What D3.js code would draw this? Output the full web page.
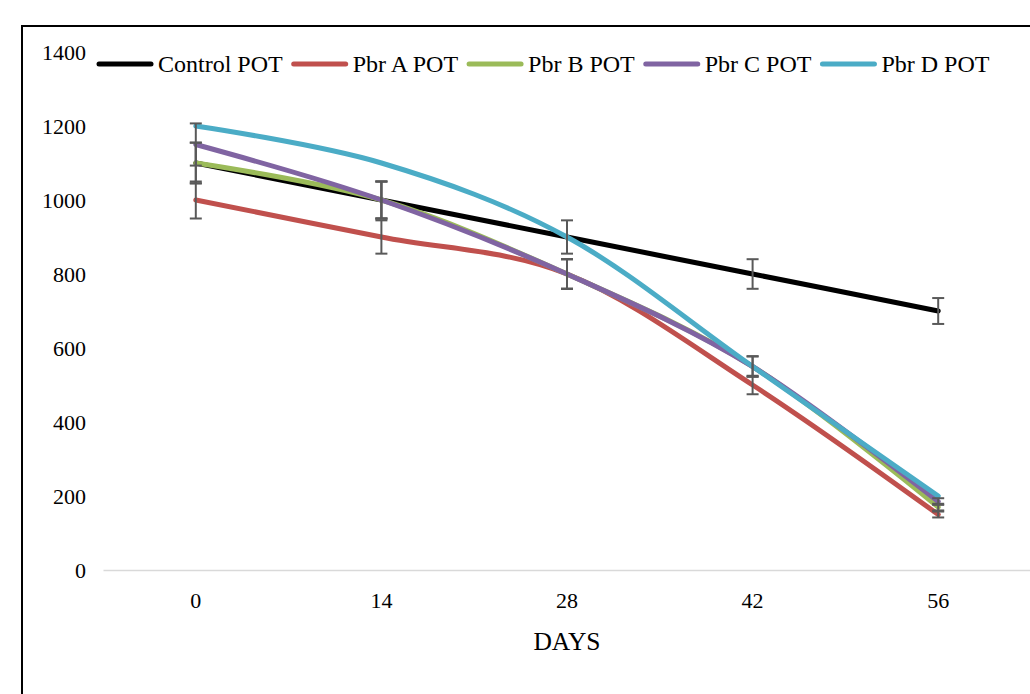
<!DOCTYPE html>
<html>
<head>
<meta charset="utf-8">
<script src="https://cdn.jsdelivr.net/npm/d3@7"></script>
<style>
  body { margin: 0; background: #fff; }
  svg text { font-family: "Liberation Serif", "Times New Roman", serif; fill: #000; }
</style>
</head>
<body>
<div class="graphContainer"></div>
<script>
// width, height
const w = 1030;
const h = 694;

// categories (days) and series values
const days = ["0", "14", "28", "42", "56"];
const seriesNames = ["Control POT", "Pbr A POT", "Pbr B POT", "Pbr C POT", "Pbr D POT"];
const controlPot = [1100, 1000, 900, 800, 700];
const pbrA = [1000, 900, 800, 500, 150];
const pbrB = [1100, 1000, 800, 550, 170];
const pbrC = [1150, 1000, 800, 550, 185];
const pbrD = [1200, 1100, 900, 550, 200];

// error bar half-lengths (Pbr D has none)
const controlErr = [55, 50, 45, 40, 35];
const pbrAErr = [50, 45, 40, 25, 8];
const pbrBErr = [55, 50, 40, 27, 9];
const pbrCErr = [57, 50, 40, 28, 9];
const pbrDErr = null;

const yTicks = [0, 200, 400, 600, 800, 1000, 1200, 1400];
const xTitle = "DAYS";

const colors = ["#000000", "#C0504D", "#9BBB59", "#8064A2", "#4BACC6"];

const series = [
	{name: seriesNames[0], values: controlPot, err: controlErr, color: colors[0]},
	{name: seriesNames[1], values: pbrA, err: pbrAErr, color: colors[1]},
	{name: seriesNames[2], values: pbrB, err: pbrBErr, color: colors[2]},
	{name: seriesNames[3], values: pbrC, err: pbrCErr, color: colors[3]},
	{name: seriesNames[4], values: pbrD, err: pbrDErr, color: colors[4]}
];

const svg = d3.select(".graphContainer").append("svg")
	.attr("width", w)
	.attr("height", h);

// outer chart border (cut off at right/bottom like the reference)
svg.append("rect")
	.attr("x", 22).attr("y", 26)
	.attr("width", 1100).attr("height", 800)
	.attr("fill", "none")
	.attr("stroke", "#000")
	.attr("stroke-width", 2);

// scales
const xScale = d3.scaleBand()
	.domain(days)
	.range([103, 1031]);
const xc = (d) => xScale(d) + xScale.bandwidth() / 2;

const yScale = d3.scaleLinear()
	.domain([0, 1400])
	.range([570, 52]);

// y axis labels
const yAxis = d3.axisLeft(yScale)
	.tickValues(yTicks)
	.tickSize(0)
	.tickPadding(0)
	.tickFormat(d3.format("d"));

svg.append("g")
	.attr("transform", "translate(86,0)")
	.call(yAxis)
	.call(g => g.select(".domain").remove())
	.selectAll("text")
	.style("font-size", "22px")
	.attr("dy", "0.35em");

// x axis
const xAxis = d3.axisBottom(xScale).tickSize(0).tickPadding(22);

svg.append("g")
	.attr("transform", "translate(0,570)")
	.call(xAxis)
	.call(g => g.select(".domain").attr("stroke", "#d9d9d9").attr("stroke-width", 1.5))
	.selectAll("text")
	.style("font-size", "22px");

svg.append("text")
	.attr("x", xc("28"))
	.attr("y", 650)
	.attr("text-anchor", "middle")
	.style("font-size", "25.5px")
	.text(xTitle);

// lines
const line = d3.line()
	.x((d, i) => xc(days[i]))
	.y(d => yScale(d))
	.curve(d3.curveCatmullRom.alpha(0));

series.forEach(s => {
	svg.append("path")
		.datum(s.values)
		.attr("fill", "none")
		.attr("stroke", s.color)
		.attr("stroke-width", 5)
		.attr("stroke-linecap", "round")
		.attr("d", line);
});

// error bars
series.forEach(s => {
	if (!s.err) return;
	const g = svg.append("g").attr("stroke", "#595959").attr("stroke-width", 2);
	s.values.forEach((v, i) => {
		const x = xc(days[i]);
		const y1 = yScale(v + s.err[i]);
		const y2 = yScale(v - s.err[i]);
		g.append("line").attr("x1", x).attr("x2", x).attr("y1", y1).attr("y2", y2);
		g.append("line").attr("x1", x - 6).attr("x2", x + 6).attr("y1", y1).attr("y2", y1);
		g.append("line").attr("x1", x - 6).attr("x2", x + 6).attr("y1", y2).attr("y2", y2);
	});
});

// legend
const legend = svg.append("g").attr("transform", "translate(97,64)");
let lx = 0;
series.forEach(s => {
	legend.append("line")
		.attr("x1", lx + 2).attr("x2", lx + 54)
		.attr("y1", 0).attr("y2", 0)
		.attr("stroke", s.color)
		.attr("stroke-width", 5)
		.attr("stroke-linecap", "round");
	const t = legend.append("text")
		.attr("x", lx + 61)
		.attr("y", 8)
		.style("font-size", "24px")
		.text(s.name);
	lx = lx + 61 + t.node().getComputedTextLength() + 9;
});
</script>
</body>
</html>
